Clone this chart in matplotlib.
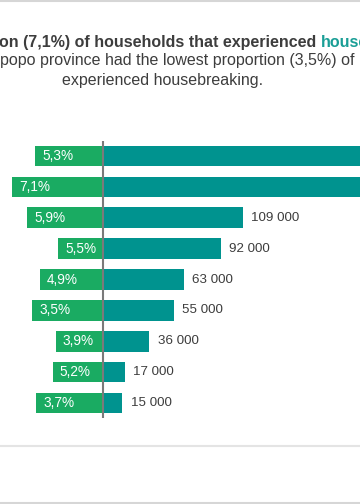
import matplotlib
matplotlib.use("Agg")
import matplotlib.pyplot as plt
from matplotlib.lines import Line2D

plt.rcParams['font.family'] = ['Liberation Sans', 'DejaVu Sans']

# --- data ---
rows = list(range(9))
green_bar_pct = [5.3, 7.1, 5.9, 3.5, 4.9, 5.5, 3.7, 3.9, 5.2]      # bar lengths as drawn
green_label_pct = ["5,3%", "7,1%", "5,9%", "5,5%", "4,9%", "3,5%", "3,9%", "5,2%", "3,7%"]
households = [230000, 356000, 109000, 92000, 63000, 55000, 36000, 17000, 15000]
household_labels = ["230 000", "356 000", "109 000", "92 000", "63 000",
                    "55 000", "36 000", "17 000", "15 000"]

title1_a = "on (7,1%) of households that experienced "
title1_b = "housebreaking"
title2 = "popo province had the lowest proportion (3,5%) of"
title3 = "experienced housebreaking."

GREEN = "#1aab62"
TEAL = "#00938f"
TXT = "#3d3d3d"
AXIS = "#7a7a7a"

W, H = 360, 504
fig = plt.figure(figsize=(W / 100, H / 100), dpi=100)
fig.patch.set_facecolor("white")

# axes: full width, from y=141 to 418 px (top origin)
ax_top, ax_bot = 141, 418
ax = fig.add_axes([0, 1 - ax_bot / H, 1, (ax_bot - ax_top) / H])
ax.set_axis_off()

px_per_k = 1.283
xmax = (W - 103) / px_per_k
ax.set_xlim(-103 / px_per_k, xmax)
ax.set_ylim(8.486, -0.486)

green_vals = [-p * 10 for p in green_bar_pct]
teal_vals = [v / 1000 for v in households]
bh = 0.67
ax.barh(rows, green_vals, height=bh, color=GREEN, linewidth=0)
ax.barh(rows, teal_vals, height=bh, color=TEAL, linewidth=0)
ax.axvline(0, color=AXIS, lw=1.5, zorder=3)

for r, gv, lab in zip(rows, green_vals, green_label_pct):
    ax.annotate(lab, xy=(gv, r), xytext=(5, 0), textcoords="offset points",
                ha="left", va="center", color="white", fontsize=9.8)
for r, tv, lab in zip(rows, teal_vals, household_labels):
    if tv < xmax:  # labels of the two longest bars fall outside the visible area
        ax.annotate(lab, xy=(tv, r), xytext=(6, 0), textcoords="offset points",
                    ha="left", va="center", color=TXT, fontsize=9.6)

# title
fs = 11.5
t1 = fig.text(-1 / W, 1 - 42 / H, title1_a, ha="left", va="center",
              fontsize=fs, fontweight="bold", color=TXT)
fig.canvas.draw()
bb = t1.get_window_extent(renderer=fig.canvas.get_renderer())
fig.text(bb.x1 / W, 1 - 42 / H, title1_b, ha="left", va="center",
         fontsize=fs, fontweight="bold", color="#1a9e96")
fig.text(0, 1 - 61 / H, title2, ha="left", va="center", fontsize=fs, color=TXT)
fig.text(163 / W, 1 - 80 / H, title3, ha="center", va="center", fontsize=fs, color=TXT)

# frame lines
for y, c in [(0.5, "#d6d6d6"), (446, "#e4e4e4"), (503, "#d6d6d6")]:
    fig.add_artist(Line2D([0, 1], [1 - y / H, 1 - y / H], color=c, lw=1.5,
                          transform=fig.transFigure))

fig.savefig("out.png", dpi=100, facecolor="white")
